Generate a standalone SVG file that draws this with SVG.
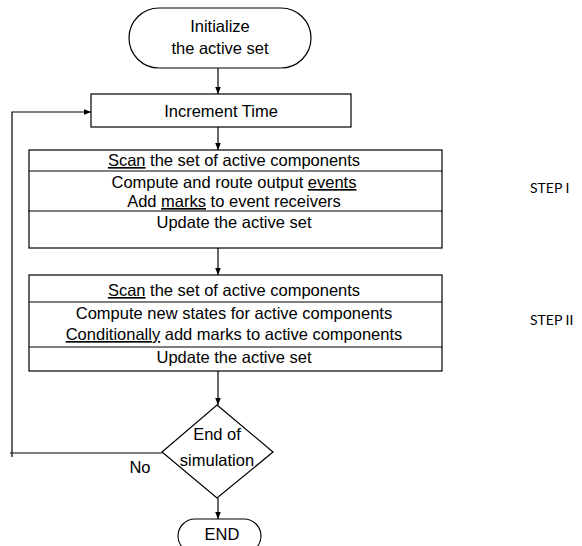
<svg xmlns="http://www.w3.org/2000/svg" width="582" height="546" viewBox="0 0 582 546">
<defs>
<style>
.s{fill:#fff;stroke:#000;stroke-width:1.2}
.t{font-family:"Liberation Sans",Arial,sans-serif;font-size:16.5px;fill:#000;text-anchor:middle}
.u{text-decoration:underline}
.c{fill:none;stroke:#000;stroke-width:1.2}
.lbl{font-family:Lato,"Open Sans",sans-serif;font-size:14px;fill:#000}
</style>
<marker id="ah" viewBox="0 0 10 10" refX="10" refY="5" markerWidth="7" markerHeight="7" markerUnits="userSpaceOnUse" orient="auto">
<path d="M0,1 L10,5 L0,9 z" fill="#000"/>
</marker>
</defs>
<g id="connectors">
<line class="c" x1="218" y1="68" x2="218" y2="94" marker-end="url(#ah)"/>
<line class="c" x1="218" y1="127" x2="218" y2="150" marker-end="url(#ah)"/>
<line class="c" x1="218" y1="248" x2="218" y2="275" marker-end="url(#ah)"/>
<line class="c" x1="218" y1="371" x2="218" y2="405" marker-end="url(#ah)"/>
<line class="c" x1="218" y1="498" x2="218" y2="519" marker-end="url(#ah)"/>
<polyline class="c" points="162,453 10,453"/>
<polyline class="c" points="12,457 12,112 91,112" marker-end="url(#ah)"/>
<text class="t" x="140" y="473">No</text>
</g>
<g id="start">
<rect class="s" x="129" y="8" width="182" height="60" rx="30" ry="30"/>
<text class="t" x="220" y="32">Initialize</text>
<text class="t" x="220" y="54">the active set</text>
</g>
<g id="increment">
<rect class="s" x="91" y="94" width="260" height="33"/>
<text class="t" x="221" y="117">Increment Time</text>
</g>
<g id="step1">
<rect class="s" x="29" y="150" width="413" height="98"/>
<line class="c" x1="29" y1="171" x2="442" y2="171"/>
<line class="c" x1="28" y1="211" x2="442" y2="211"/>
<text class="t" x="234" y="166"><tspan class="u">Scan</tspan> the set of active components</text>
<text class="t" x="234" y="188">Compute and route output <tspan class="u">events</tspan></text>
<text class="t" x="234" y="207">Add <tspan class="u">marks</tspan> to event receivers</text>
<text class="t" x="234" y="228">Update the active set</text>
<text class="lbl" x="530" y="193">STEP I</text>
</g>
<g id="step2">
<rect class="s" x="29" y="275" width="413" height="96"/>
<line class="c" x1="29" y1="302" x2="442" y2="302"/>
<line class="c" x1="29" y1="347" x2="442" y2="347"/>
<text class="t" x="234" y="296"><tspan class="u">Scan</tspan> the set of active components</text>
<text class="t" x="234" y="319">Compute new states for active components</text>
<text class="t" x="234" y="340"><tspan class="u">Conditionally</tspan> add marks to active components</text>
<text class="t" x="234" y="363">Update the active set</text>
<text class="lbl" x="530" y="325">STEP II</text>
</g>
<g id="decision">
<polygon class="s" points="217,405 273,452 217,498 162,452"/>
<text class="t" x="217" y="440">End of</text>
<text class="t" x="217" y="466">simulation</text>
</g>
<g id="end">
<rect class="s" x="178" y="519" width="83" height="34" rx="17" ry="17"/>
<text class="t" x="222" y="540">END</text>
</g>
</svg>
